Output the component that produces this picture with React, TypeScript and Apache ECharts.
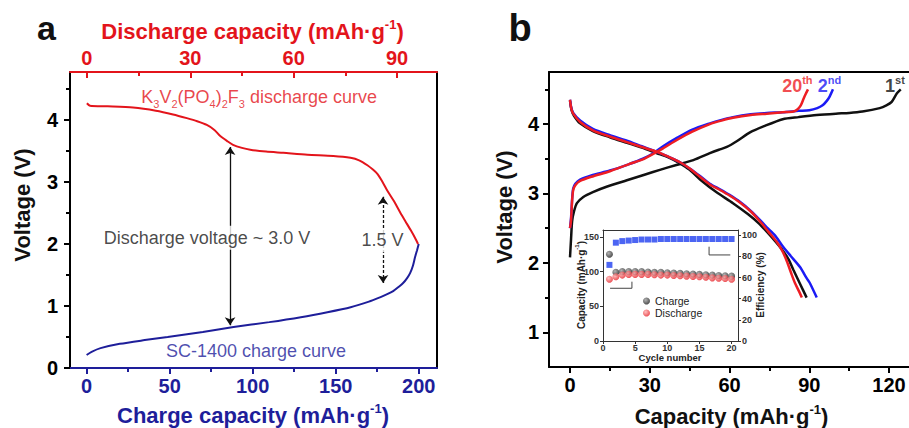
import React, { useEffect, useRef } from 'react';
import * as echarts from 'echarts';

const FONT = "'Liberation Sans', Arial, Helvetica, sans-serif";

// ---------- Panel a ----------
const aTopLabels = [0, 30, 60, 90];
const aTopMinor = [15, 45, 75];
const aBottomLabels = [0, 50, 100, 150, 200];
const aBottomMinor = [25, 75, 125, 175];
const aYLabels = [0, 1, 2, 3, 4];
const aYMinor = [0.5, 1.5, 2.5, 3.5, 4.5];

// K3V2(PO4)2F3 discharge curve: [discharge capacity, voltage]
const k3v2Discharge = [
  [0, 4.27], [0.9, 4.23], [6, 4.22], [13.4, 4.2], [20, 4.15], [25, 4.09], [29, 4.03], [32, 3.98],
  [34.8, 3.92], [37, 3.84], [38.7, 3.74], [40.7, 3.66], [42.4, 3.6], [45, 3.55], [47.4, 3.52],
  [52, 3.49], [57, 3.47], [64, 3.44], [71.5, 3.42], [76.5, 3.39], [79, 3.35], [81.4, 3.27],
  [83, 3.2], [84.3, 3.13], [85.8, 3.0], [87.2, 2.86], [89, 2.7], [91, 2.5], [92.5, 2.36],
  [94, 2.22], [95.2, 2.1], [96.1, 2.0],
];
// SC-1400 charge curve: [charge capacity, voltage]
const sc1400Charge = [
  [0, 0.21], [3, 0.26], [8.4, 0.32], [20, 0.39], [35, 0.45], [48.8, 0.5], [70, 0.58], [88.5, 0.66],
  [110, 0.74], [129, 0.82], [145, 0.9], [159, 0.98], [170, 1.07], [176.7, 1.14], [181, 1.19],
  [184.6, 1.24], [188, 1.31], [190.6, 1.37], [193, 1.45], [194.8, 1.53], [196.5, 1.65],
  [197.8, 1.79], [199, 1.9], [200, 2.0],
];
// annotations (bottom-axis coordinates)
const voltageArrow = [[86.4, 0.69], [86.4, 3.565]];
const gapArrow = [[178.5, 1.37], [178.5, 2.76]];
const aTexts = [
  { text: 'Discharge voltage ~ 3.0 V', at: [72.5, 2.1] },
  { text: '1.5 V', at: [178.2, 2.06] },
];

// ---------- Panel b ----------
const bXLabels = [0, 30, 60, 90, 120];
const bXMinor = [15, 45, 75, 105];
const bYLabels = [1, 2, 3, 4];
const bYMinor = [1.5, 2.5, 3.5, 4.5];

const charge1st = [
  [0, 2.08], [0.4, 2.35], [0.8, 2.6], [1.5, 2.74], [2.6, 2.86], [5, 2.95], [8.6, 3.02], [14, 3.1],
  [21.4, 3.19], [28, 3.27], [33.8, 3.34], [40, 3.41], [46.4, 3.48], [52.6, 3.58], [56, 3.63],
  [59, 3.67], [63, 3.76], [67.7, 3.88], [73, 3.97], [80, 4.07], [86, 4.1], [92.8, 4.13],
  [100, 4.15], [105, 4.16], [110, 4.18], [116.5, 4.23], [119, 4.27], [121, 4.32], [122.9, 4.44],
  [124.4, 4.5],
];
const discharge1st = [
  [0, 4.33], [0.6, 4.2], [1.5, 4.12], [3.8, 4.01], [8.6, 3.9], [15, 3.81], [21.4, 3.73], [27, 3.66],
  [32.7, 3.58], [37, 3.52], [41, 3.44], [45, 3.34], [49.6, 3.18], [55, 3.02], [61.3, 2.86],
  [67, 2.7], [71, 2.57], [74, 2.45], [77, 2.32], [80, 2.18], [82.2, 2.05], [84, 1.9], [86.5, 1.7],
  [89, 1.5],
];
const charge2nd = [
  [0, 2.5], [0.4, 2.65], [0.8, 2.92], [1.2, 3.07], [2, 3.14], [3.8, 3.2], [8, 3.26], [15, 3.33],
  [22, 3.42], [27.4, 3.5], [31.3, 3.58], [35, 3.68], [40.2, 3.8], [46, 3.92], [52.6, 4.01],
  [57, 4.06], [61.3, 4.1], [68, 4.14], [74, 4.16], [80, 4.17], [86, 4.19], [90, 4.2], [93, 4.23],
  [95, 4.27], [96.5, 4.33], [97.7, 4.4], [98.9, 4.5],
];
const discharge2nd = [
  [0, 4.35], [0.5, 4.23], [1.2, 4.16], [3.8, 4.05], [8.6, 3.93], [15, 3.84], [21.4, 3.76], [27, 3.68],
  [32.7, 3.6], [37, 3.53], [41.4, 3.45], [45, 3.36], [48.9, 3.25], [52.6, 3.14], [56.4, 3.06],
  [60, 2.98], [63.9, 2.88], [68, 2.75], [71.4, 2.62], [74, 2.51], [77, 2.4], [80, 2.24], [83, 2.1],
  [86.5, 1.94], [89, 1.78], [90.2, 1.71], [92.8, 1.5],
];
const charge20th = [
  [0, 2.5], [0.4, 2.62], [0.8, 2.9], [1.2, 3.05], [2, 3.12], [3.8, 3.18], [8, 3.24], [15, 3.32],
  [22, 3.42], [27.4, 3.49], [31.3, 3.57], [35, 3.65], [40.2, 3.77], [46, 3.89], [52.6, 4.0],
  [57, 4.05], [61.3, 4.09], [68, 4.13], [74, 4.15], [80, 4.17], [84, 4.18], [85.5, 4.21],
  [86.8, 4.27], [87.8, 4.36], [88.6, 4.43], [89.5, 4.5],
];
const discharge20th = [
  [0, 4.35], [0.5, 4.22], [1.2, 4.15], [3.8, 4.03], [8.6, 3.91], [15, 3.82], [21.4, 3.74], [27, 3.67],
  [32.7, 3.6], [37, 3.53], [41.4, 3.45], [45, 3.36], [48.9, 3.24], [52.6, 3.13], [56.4, 3.05],
  [60, 2.97], [63.9, 2.87], [68, 2.74], [71.4, 2.6], [74.6, 2.45], [77.8, 2.3], [80, 2.16],
  [81.6, 2.02], [83.2, 1.85], [84.6, 1.71], [86, 1.6], [87.2, 1.5],
];
const cycleLabels = [
  { main: '20', sup: 'th', color: '#ee1d23', at: [85.5, 4.55] },
  { main: '2', sup: 'nd', color: '#1b1bf5', at: [97.6, 4.55] },
  { main: '1', sup: 'st', color: '#111111', at: [122.2, 4.55] },
];

// ---------- Inset ----------
const cycles = [1, 2, 3, 4, 5, 6, 7, 8, 9, 10, 11, 12, 13, 14, 15, 16, 17, 18, 19, 20];
const chargeCapacity = [125, 99, 100, 100, 100, 100, 99.5, 99, 99, 98.5, 98, 97.5, 97, 96.5, 96, 95.5, 95, 94.5, 94, 93.5];
const dischargeCapacity = [89, 92.5, 95, 96, 96, 96, 96, 95.5, 95, 95, 94.5, 94, 93.5, 93, 92.5, 92, 91, 90.5, 90, 89];
const efficiency = [72, 93, 94.5, 95, 95.5, 96, 96, 96, 96.5, 96.5, 96.5, 96.5, 96.5, 96.5, 96.5, 96.5, 96.5, 96.5, 96.5, 96.5];
const insetXLabels = [0, 5, 10, 15, 20];
const insetYLabels = [0, 50, 100, 150];
const insetY2Labels = [0, 20, 40, 60, 80, 100];
const leftArrow = [[4.5, 85.5], [4.5, 76], [1.1, 76]];
const rightArrow = [[16.5, 89.2], [16.5, 81.4], [19.8, 81.4]];

const RED_A = '#e3141b';
const BLUE_A = '#1e1e9a';

function axis(o: any) {
  return {
    type: 'value',
    gridIndex: o.grid,
    position: o.pos,
    min: o.min,
    max: o.max,
    silent: true,
    axisLine: { show: !!o.line, onZero: false, lineStyle: { color: o.color || '#000', width: o.lw ?? 2 } },
    axisTick: o.ticks
      ? { show: true, inside: !!o.inside, length: o.tl ?? 6, customValues: o.ticks, lineStyle: { color: o.color || '#000', width: o.tw ?? 2 } }
      : { show: false },
    axisLabel: o.labels
      ? { show: true, customValues: o.labels, color: o.color || '#000', fontSize: o.fs ?? 20, fontWeight: 'bold', margin: o.margin ?? 8, fontFamily: FONT }
      : { show: false },
    splitLine: { show: false },
  };
}

function supTitle(main: string, end: string, color: string, fs: number) {
  return {
    text: `{m|${main}}{s|-1}{m|${end}}`,
    fill: color,
    rich: {
      m: { fontSize: fs, fontWeight: 'bold', fontFamily: FONT, fill: color, color, lineHeight: fs + 4 },
      s: { fontSize: Math.round(fs * 0.6), fontWeight: 'bold', fontFamily: FONT, fill: color, color, verticalAlign: 'top', lineHeight: Math.round(fs * 0.6) },
    },
  };
}

export default function App() {
  const ref = useRef<HTMLDivElement>(null);
  useEffect(() => {
    if (!ref.current) return;
    const chart = echarts.init(ref.current, undefined, { renderer: 'svg' });

    const xAxis = [
      axis({ grid: 0, pos: 'bottom', min: -10, max: 211, line: true, color: BLUE_A, ticks: aBottomLabels, labels: aBottomLabels, margin: 8 }),
      axis({ grid: 0, pos: 'bottom', min: -10, max: 211, ticks: aBottomMinor, tl: 4, color: BLUE_A }),
      axis({ grid: 0, pos: 'top', min: -4.9, max: 101.6, line: true, color: RED_A, ticks: aTopLabels, inside: true, labels: aTopLabels, margin: 4 }),
      axis({ grid: 0, pos: 'top', min: -4.9, max: 101.6, ticks: aTopMinor, inside: true, tl: 4, color: RED_A }),
      axis({ grid: 1, pos: 'bottom', min: -7.9, max: 127.5, line: true, ticks: bXLabels, labels: bXLabels, margin: 8 }),
      axis({ grid: 1, pos: 'bottom', min: -7.9, max: 127.5, ticks: bXMinor, tl: 4 }),
      axis({ grid: 1, pos: 'top', min: -7.9, max: 127.5, line: true }),
      axis({ grid: 2, pos: 'bottom', min: 0, max: 21, line: true, lw: 1, tw: 1, tl: 3, color: '#333', ticks: insetXLabels, labels: insetXLabels, fs: 9, margin: 2 }),
      axis({ grid: 2, pos: 'top', min: 0, max: 21, line: true, lw: 1, color: '#333' }),
    ];
    const yAxis = [
      axis({ grid: 0, pos: 'left', min: 0, max: 4.774, line: true, ticks: aYLabels, labels: aYLabels, margin: 12 }),
      axis({ grid: 0, pos: 'left', min: 0, max: 4.774, ticks: aYMinor, tl: 4 }),
      axis({ grid: 0, pos: 'right', min: 0, max: 4.774, line: true }),
      axis({ grid: 1, pos: 'left', min: 0.5, max: 4.75, line: true, ticks: bYLabels, labels: bYLabels, margin: 10 }),
      axis({ grid: 1, pos: 'left', min: 0.5, max: 4.75, ticks: bYMinor, tl: 4 }),
      axis({ grid: 2, pos: 'left', min: 0, max: 160, line: true, lw: 1, tw: 1, tl: 3, color: '#333', ticks: insetYLabels, labels: insetYLabels, fs: 9, margin: 4 }),
      axis({ grid: 2, pos: 'right', min: 0, max: 105, line: true, lw: 1, tw: 1, tl: 3, color: '#333', ticks: insetY2Labels, labels: insetY2Labels, fs: 9, margin: 4 }),
    ];

    const lineSeries = (name: string, data: number[][], color: string, xi: number, yi: number, w: number) => ({
      name, type: 'line', data, xAxisIndex: xi, yAxisIndex: yi, showSymbol: false, symbol: 'none',
      smooth: 0.25, lineStyle: { color, width: w }, itemStyle: { color }, silent: true, z: 3,
    });

    const ball = (light: string, dark: string) => ({
      type: 'radial', x: 0.38, y: 0.35, r: 0.75,
      colorStops: [{ offset: 0, color: light }, { offset: 1, color: dark }],
    });

    const series: any[] = [
      lineSeries('SC-1400', sc1400Charge, BLUE_A, 0, 0, 2),
      lineSeries('K3V2(PO4)2F3', k3v2Discharge, RED_A, 2, 0, 2),
      {
        type: 'lines', coordinateSystem: 'cartesian2d', xAxisIndex: 0, yAxisIndex: 0, silent: true, z: 4,
        symbol: ['arrow', 'arrow'], symbolSize: 8,
        lineStyle: { color: '#111', width: 1.3, opacity: 1 },
        data: [
          { coords: voltageArrow, lineStyle: { color: '#111', width: 1.3, type: 'solid', opacity: 1 } },
          { coords: gapArrow, lineStyle: { color: '#111', width: 1.3, type: [3, 2], opacity: 1 } },
        ],
      },
      {
        type: 'scatter', xAxisIndex: 0, yAxisIndex: 0, symbolSize: 1, silent: true, z: 10,
        itemStyle: { color: 'rgba(0,0,0,0)' },
        data: aTexts.map((t) => ({
          value: t.at,
          label: { show: true, position: 'inside', formatter: t.text, color: '#1a1a1a', fontSize: 18, fontFamily: FONT, backgroundColor: '#fff', padding: [3, 3] },
        })),
      },
      {
        type: 'scatter', xAxisIndex: 2, yAxisIndex: 0, symbolSize: 1, silent: true, z: 10,
        itemStyle: { color: 'rgba(0,0,0,0)' },
        data: [{
          value: [50, 4.37],
          label: {
            show: true, position: 'inside',
            formatter: '{m|K}{s|3}{m|V}{s|2}{m|(PO}{s|4}{m|)}{s|2}{m|F}{s|3}{m| discharge curve}',
            rich: {
              m: { fontSize: 18, lineHeight: 24, color: RED_A, fontFamily: FONT },
              s: { fontSize: 11, lineHeight: 11, verticalAlign: 'bottom', color: RED_A, fontFamily: FONT },
            },
          },
        }],
      },
      {
        type: 'scatter', xAxisIndex: 0, yAxisIndex: 0, symbolSize: 1, silent: true, z: 10,
        itemStyle: { color: 'rgba(0,0,0,0)' },
        data: [{
          value: [102, 0.27],
          label: { show: true, position: 'inside', formatter: 'SC-1400 charge curve', color: BLUE_A, fontSize: 18, fontFamily: FONT },
        }],
      },
      // panel b
      lineSeries('1st charge', charge1st, '#111', 4, 3, 2.5),
      lineSeries('1st discharge', discharge1st, '#111', 4, 3, 2.5),
      lineSeries('2nd charge', charge2nd, '#1b1bf5', 4, 3, 2.5),
      lineSeries('2nd discharge', discharge2nd, '#1b1bf5', 4, 3, 2.5),
      lineSeries('20th charge', charge20th, '#ee1d23', 4, 3, 2.5),
      lineSeries('20th discharge', discharge20th, '#ee1d23', 4, 3, 2.5),
      {
        type: 'scatter', xAxisIndex: 4, yAxisIndex: 3, symbolSize: 1, silent: true, z: 10,
        itemStyle: { color: 'rgba(0,0,0,0)' },
        data: cycleLabels.map((c) => ({
          value: c.at,
          label: {
            show: true, position: 'inside',
            formatter: `{m|${c.main}}{s|${c.sup}}`,
            rich: {
              m: { fontSize: 18, fontWeight: 'bold', lineHeight: 22, color: c.color, fontFamily: FONT },
              s: { fontSize: 11, fontWeight: 'bold', lineHeight: 11, verticalAlign: 'top', color: c.color, fontFamily: FONT },
            },
          },
        })),
      },
      // inset
      {
        name: 'Efficiency', type: 'scatter', xAxisIndex: 7, yAxisIndex: 6, symbol: 'rect', symbolSize: 6,
        data: cycles.map((c, i) => [c, efficiency[i]]), itemStyle: { color: '#1f3ff0' }, silent: true, z: 5,
      },
      {
        name: 'Charge', type: 'scatter', xAxisIndex: 7, yAxisIndex: 5, symbol: 'circle', symbolSize: 7,
        data: cycles.map((c, i) => [c, chargeCapacity[i]]), itemStyle: { color: ball('#a0a0a0', '#111') }, silent: true, z: 5,
      },
      {
        name: 'Discharge', type: 'scatter', xAxisIndex: 7, yAxisIndex: 5, symbol: 'circle', symbolSize: 7,
        data: cycles.map((c, i) => [c, dischargeCapacity[i]]), itemStyle: { color: ball('#ffb0b0', '#e3141b') }, silent: true, z: 6,
      },
      {
        type: 'lines', coordinateSystem: 'cartesian2d', xAxisIndex: 7, yAxisIndex: 5, polyline: true, silent: true, z: 4,
        symbol: ['none', 'arrow'], symbolSize: 5,
        data: [{ coords: leftArrow }], lineStyle: { color: '#444', width: 1, opacity: 1 },
      },
      {
        type: 'lines', coordinateSystem: 'cartesian2d', xAxisIndex: 7, yAxisIndex: 6, polyline: true, silent: true, z: 4,
        symbol: ['none', 'arrow'], symbolSize: 5,
        data: [{ coords: rightArrow }], lineStyle: { color: '#444', width: 1, opacity: 1 },
      },
    ];

    const txt = (x: number, y: number, style: any, rotation = 0) => ({
      type: 'text', x, y, rotation, silent: true,
      style: { align: 'center', verticalAlign: 'middle', textAlign: 'center', textVerticalAlign: 'middle', fontFamily: FONT, ...style },
    });

    const option: any = {
      animation: false,
      backgroundColor: '#fff',
      textStyle: { fontFamily: FONT },
      grid: [
        { left: 70, top: 72, width: 367, height: 296, outerBoundsMode: 'none', containLabel: false },
        { left: 549, top: 72, width: 360, height: 295, outerBoundsMode: 'none', containLabel: false },
        { left: 603, top: 230, width: 135, height: 111, outerBoundsMode: 'none', containLabel: false },
      ],
      xAxis,
      yAxis,
      legend: {
        data: ['Charge', 'Discharge'], orient: 'vertical', left: 643, top: 295, itemWidth: 7, itemHeight: 7,
        itemGap: 0, icon: 'circle', padding: 0, selectedMode: false,
        textStyle: { fontSize: 10.5, color: '#222', fontFamily: FONT, lineHeight: 12 },
      },
      graphic: [
        txt(46.5, 28, { text: 'a', fontSize: 34, fontWeight: 'bold', fill: '#111' }),
        txt(520, 28, { text: 'b', fontSize: 38, fontWeight: 'bold', fill: '#111' }),
        txt(252.5, 31, supTitle('Discharge capacity (mAh·g', ')', RED_A, 22)),
        txt(253, 415, supTitle('Charge capacity (mAh·g', ')', BLUE_A, 22)),
        txt(22, 205, { text: 'Voltage (V)', fontSize: 22, fontWeight: 'bold', fill: '#111' }, Math.PI / 2),
        txt(504, 207, { text: 'Voltage (V)', fontSize: 22, fontWeight: 'bold', fill: '#111' }, Math.PI / 2),
        txt(731.5, 416, supTitle('Capacity (mAh·g', ')', '#111', 22)),
        txt(581, 285, supTitle('Capacity (mAh·g', ')', '#222', 10), Math.PI / 2),
        txt(760, 285, { text: 'Efficiency (%)', fontSize: 10, fontWeight: 'bold', fill: '#222' }, Math.PI / 2),
        txt(670, 357, { text: 'Cycle number', fontSize: 9.5, fontWeight: 'bold', fill: '#222' }),
      ],
      series,
    };
    chart.setOption(option);
    return () => chart.dispose();
  }, []);
  return <div ref={ref} style={{ position: 'fixed', left: 0, top: 0, width: 909, height: 428 }} />;
}
